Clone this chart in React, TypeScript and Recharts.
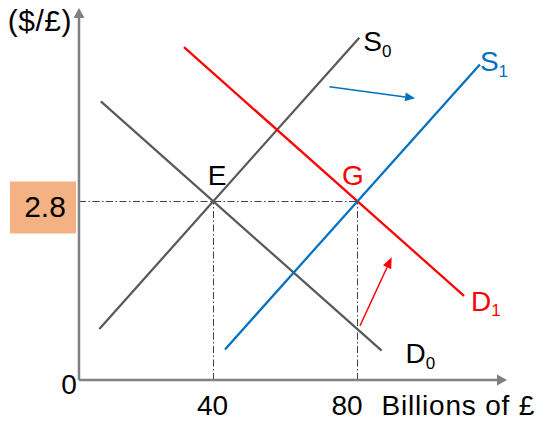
import React from 'react';
import { ComposedChart, Line, XAxis, YAxis, ReferenceLine, ReferenceDot } from 'recharts';

// ---- data (quantity in billions of £, price in $/£) ----
const S0 = [{ q: 8.3, p: 0.8 }, { q: 80.5, p: 5.37 }];
const S1 = [{ q: 43.2, p: 0.48 }, { q: 114, p: 4.95 }];
const D0 = [{ q: 8.7, p: 4.37 }, { q: 86.7, p: 0.46 }];
const D1 = [{ q: 31.8, p: 5.22 }, { q: 109.6, p: 1.32 }];
const equilibriumE = { q: 40, p: 2.8 };
const equilibriumG = { q: 80, p: 2.8 };
const supplyShift = [{ q: 72.2, p: 4.6 }, { q: 96.0, p: 4.42 }];
const demandShift = [{ q: 80.7, p: 0.85 }, { q: 89.5, p: 1.925 }];
const xTicks = [40, 80];
const xTickLabels = ['40', '80'];
const xUnit = 'Billions of £';
const priceLabel = '2.8';
const yTitle = '($/£)';

const X_DOMAIN: [number, number] = [2.64, 121.53];
const Y_DOMAIN: [number, number] = [0, 5.835];

const FONT = '"Liberation Sans", Arial, Helvetica, sans-serif';
const GRAY = '#595959';
const AXIS = '#808080';
const RED = '#FF0000';
const BLUE = '#0070C0';

const arrowShape = (color: string, width: number, headLen: number, headW: number) => (p: any) => {
  const { x1, y1, x2, y2 } = p;
  const ang = Math.atan2(y2 - y1, x2 - x1);
  const bx = x2 - headLen * Math.cos(ang);
  const by = y2 - headLen * Math.sin(ang);
  const nx = (-Math.sin(ang) * headW) / 2;
  const ny = (Math.cos(ang) * headW) / 2;
  return (
    <g>
      <line x1={x1} y1={y1} x2={bx} y2={by} stroke={color} strokeWidth={width} />
      <polygon points={`${x2},${y2} ${bx + nx},${by + ny} ${bx - nx},${by - ny}`} fill={color} />
    </g>
  );
};

const tag = (
  text: string,
  sub: string | null,
  color: string,
  dx: number,
  dy: number,
  anchor: 'start' | 'middle' | 'end' = 'start',
  subDy = 6,
  size = 28,
  spacing = 0,
) => (props: any) => (
  <text
    x={props.cx + dx}
    y={props.cy + dy}
    fill={color}
    fontSize={size}
    fontFamily={FONT}
    textAnchor={anchor}
    letterSpacing={spacing}
  >
    {text}
    {sub ? (
      <tspan fontSize={17} dy={subDy}>
        {sub}
      </tspan>
    ) : null}
  </text>
);

const priceBox = (props: any) => (
  <g>
    <rect x={props.cx - 69} y={props.cy - 20} width={66} height={52} fill="#F4B183" />
    <text x={props.cx - 34} y={props.cy + 15.5} fontSize={30} fontFamily={FONT} textAnchor="middle" fill="#000">
      {priceLabel}
    </text>
  </g>
);

const DASH = '7 2.5 1.5 2.5';

export default function App() {
  return (
    <div style={{ position: 'absolute', left: 0, top: 0, background: '#fff' }}>
      <ComposedChart width={537} height={433} margin={{ top: 8, right: 30, bottom: 53, left: 79 }}>
        <XAxis type="number" dataKey="q" domain={X_DOMAIN} allowDataOverflow hide />
        <YAxis type="number" dataKey="p" domain={Y_DOMAIN} allowDataOverflow hide />

        {/* guides */}
        <ReferenceLine
          segment={[{ x: X_DOMAIN[0], y: equilibriumG.p }, { x: equilibriumG.q, y: equilibriumG.p }]}
          stroke="#404040"
          strokeWidth={1}
          strokeDasharray={DASH}
          ifOverflow="visible"
        />
        <ReferenceLine
          segment={[{ x: equilibriumE.q, y: 0 }, { x: equilibriumE.q, y: equilibriumE.p }]}
          stroke="#404040"
          strokeWidth={1}
          strokeDasharray={DASH}
          ifOverflow="visible"
        />
        <ReferenceLine
          segment={[{ x: equilibriumG.q, y: 0 }, { x: equilibriumG.q, y: equilibriumG.p }]}
          stroke="#404040"
          strokeWidth={1}
          strokeDasharray={DASH}
          ifOverflow="visible"
        />

        <Line data={S0} dataKey="p" type="linear" stroke={GRAY} strokeWidth={2.25} dot={false} isAnimationActive={false} />
        <Line data={D0} dataKey="p" type="linear" stroke={GRAY} strokeWidth={2.25} dot={false} isAnimationActive={false} />
        <Line data={D1} dataKey="p" type="linear" stroke={RED} strokeWidth={2.25} dot={false} isAnimationActive={false} />
        <Line data={S1} dataKey="p" type="linear" stroke={BLUE} strokeWidth={2.25} dot={false} isAnimationActive={false} />

        {/* axes with arrows */}
        <ReferenceLine
          segment={[{ x: X_DOMAIN[0], y: 0 }, { x: X_DOMAIN[1], y: 0 }]}
          ifOverflow="visible"
          shape={arrowShape(AXIS, 2.5, 10, 11)}
        />
        <ReferenceLine
          segment={[{ x: X_DOMAIN[0], y: 0 }, { x: X_DOMAIN[0], y: Y_DOMAIN[1] }]}
          ifOverflow="visible"
          shape={arrowShape(AXIS, 2.5, 10, 11)}
        />

        {/* shift arrows */}
        <ReferenceLine
          segment={[{ x: supplyShift[0].q, y: supplyShift[0].p }, { x: supplyShift[1].q, y: supplyShift[1].p }]}
          ifOverflow="visible"
          shape={arrowShape(BLUE, 1.5, 10, 9)}
        />
        <ReferenceLine
          segment={[{ x: demandShift[0].q, y: demandShift[0].p }, { x: demandShift[1].q, y: demandShift[1].p }]}
          ifOverflow="visible"
          shape={arrowShape(RED, 1.5, 11, 9)}
        />

        {/* labels */}
        <ReferenceDot x={S0[1].q} y={S0[1].p} r={0} ifOverflow="visible" shape={tag('S', '0', '#000', 4, 13.5)} />
        <ReferenceDot x={S1[1].q} y={S1[1].p} r={0} ifOverflow="visible" shape={tag('S', '1', BLUE, 0, 7)} />
        <ReferenceDot x={D1[1].q} y={D1[1].p} r={0} ifOverflow="visible" shape={tag('D', '1', RED, 7, 15.5, 'start', 5)} />
        <ReferenceDot x={D0[1].q} y={D0[1].p} r={0} ifOverflow="visible" shape={tag('D', '0', '#000', 24, 12.5)} />
        <ReferenceDot x={equilibriumE.q} y={equilibriumE.p} r={0} ifOverflow="visible" shape={tag('E', null, '#000', 3.5, -16.5, 'middle')} />
        <ReferenceDot x={equilibriumG.q} y={equilibriumG.p} r={0} ifOverflow="visible" shape={tag('G', null, RED, -4.5, -16.5, 'middle')} />
        <ReferenceDot x={X_DOMAIN[0]} y={equilibriumE.p} r={0} ifOverflow="visible" shape={priceBox} />
        <ReferenceDot x={X_DOMAIN[0]} y={0} r={0} ifOverflow="visible" shape={tag('0', null, '#000', -10, 14, 'middle')} />
        <ReferenceDot x={xTicks[0]} y={0} r={0} ifOverflow="visible" shape={tag(xTickLabels[0], null, '#000', -1, 35, 'middle')} />
        <ReferenceDot x={xTicks[1]} y={0} r={0} ifOverflow="visible" shape={tag(xTickLabels[1], null, '#000', -10.5, 35, 'middle')} />
        <ReferenceDot x={xTicks[1]} y={0} r={0} ifOverflow="visible" shape={tag(xUnit, null, '#000', 24, 35, 'start', 6, 28, 0.8)} />
        <ReferenceDot x={X_DOMAIN[0]} y={Y_DOMAIN[1]} r={0} ifOverflow="visible" shape={tag(yTitle, null, '#000', -7, 23, 'end', 6, 30, 0.5)} />
      </ComposedChart>
    </div>
  );
}
